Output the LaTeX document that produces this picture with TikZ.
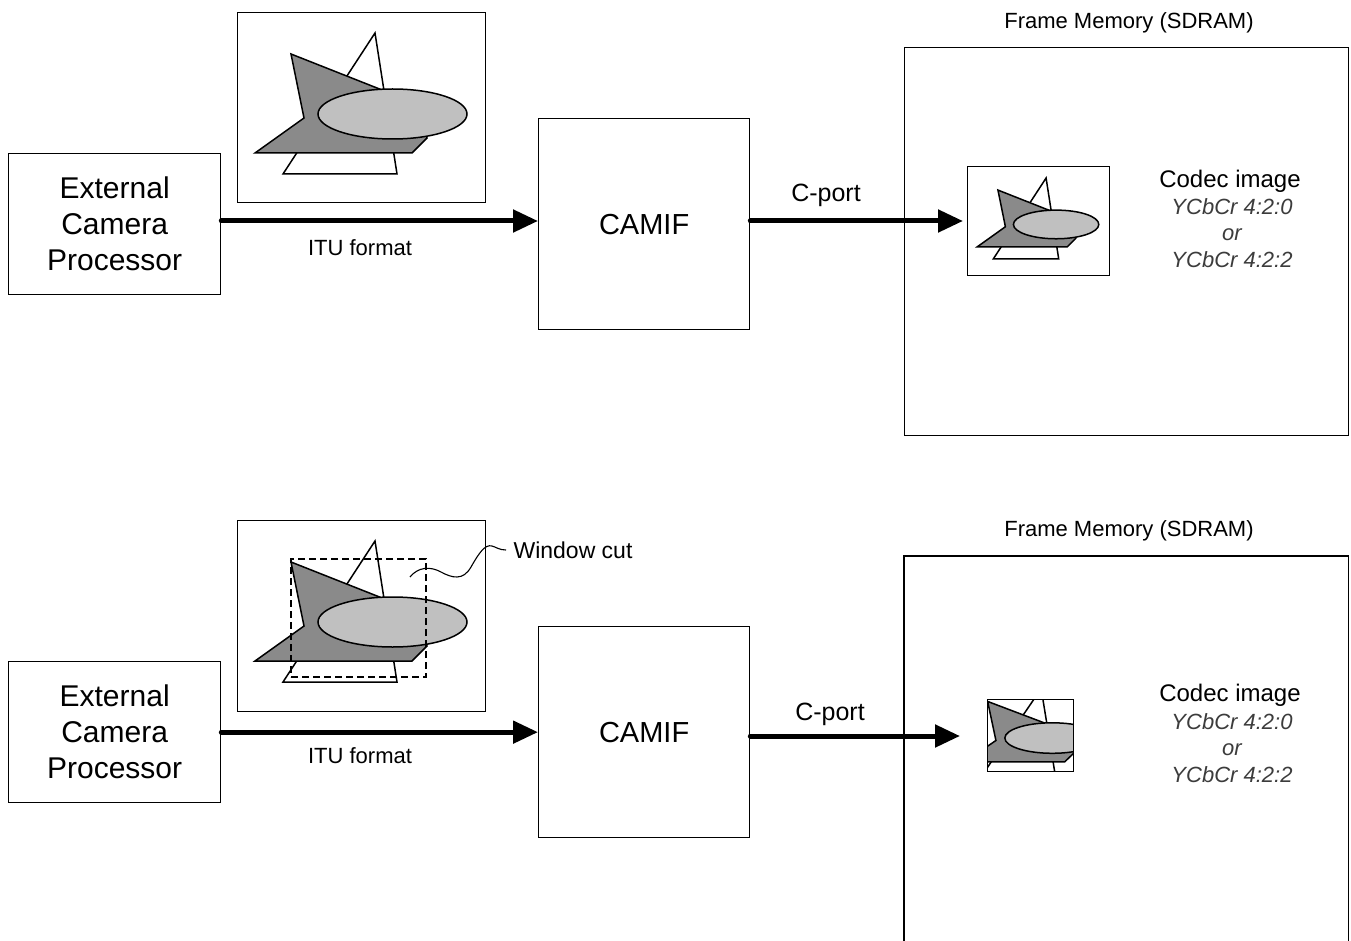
\documentclass[tikz,border=0pt]{standalone}
\usepackage{fontspec}
\setmainfont{Liberation Sans}
\usetikzlibrary{arrows.meta}

\definecolor{hatchgray}{RGB}{138,138,138}
\definecolor{ovalgray}{RGB}{192,192,192}
\definecolor{fmtgray}{RGB}{60,60,60}

\newcommand{\ecpfont}{\fontsize{30}{36}\selectfont}
\newcommand{\camiffont}{\fontsize{29}{34}\selectfont}
\newcommand{\labelfont}{\fontsize{22}{26}\selectfont}
\newcommand{\portfont}{\fontsize{25}{30}\selectfont}
\newcommand{\codecfont}{\fontsize{24}{28}\selectfont}
\newcommand{\fmtfont}{\fontsize{22}{26.5}\selectfont\itshape}

% Sample camera scene: triangle, star and oval, in a 248 x 190 frame
\newcommand{\camerascene}{%
  \draw[shapeline, fill=white] (138,21) -- (160,162) -- (46,162) -- cycle;
  \draw[shapeline, fill=hatchgray] (54,42) -- (183,93) -- (190,126) -- (175,141)
       -- (18,141) -- (67,106) -- cycle;
  \draw[shapeline, fill=ovalgray] (155.5,102) ellipse [x radius=74.5, y radius=25];
}

\begin{document}
\begin{tikzpicture}[x=1pt, y=-1pt,
  box/.style={draw, line width=1.3pt, inner sep=0pt, anchor=north west},
  shapeline/.style={line width=1.5pt, line join=miter},
  flow/.style={line width=5pt, line cap=round, -{Triangle[length=25pt, width=22pt]}},
  winbox/.style={draw, line width=2.2pt, dash pattern=on 7pt off 4pt, inner sep=0pt, anchor=north west}]

\path[use as bounding box, clip] (0,0) rectangle (1351,941);
\fill[white] (0,0) rectangle (1351,941);

% ---------------- upper path: full frame ----------------
\node[box, minimum width=212pt, minimum height=141pt, align=center, font=\ecpfont] (ecp) at (8,153)
  {External\\Camera\\Processor};
\node[box, minimum width=211pt, minimum height=211pt, font=\camiffont] (camif) at (538,118) {CAMIF};
\node[box, minimum width=248pt, minimum height=190pt] (srcA) at (237,12) {};
\begin{scope}[shift={(237,12)}]
  \camerascene
\end{scope}

\node[box, minimum width=444pt, minimum height=388pt] (fm) at (904,47) {};
\node[font=\labelfont] (fmlabel) at (1129,23) {Frame Memory (SDRAM)};

\node[box, line width=1.2pt, minimum width=142pt, minimum height=109pt] (imgA) at (967,166) {};
\begin{scope}[shift={(967,166)}, scale=0.573]
  \camerascene
\end{scope}

\node[font=\codecfont] (codecA) at (1230,181) {Codec image};
\node[font=\fmtfont, text=fmtgray, align=center] (fmtA) at (1232,233) {YCbCr 4:2:0\\or\\YCbCr 4:2:2};

\coordinate (ituLineA) at (400,221);
\draw[flow] (ecp.east |- ituLineA) -- (camif.west |- ituLineA);
\node[font=\labelfont] (ituA) at (360,248) {ITU format};
\draw[flow] (camif.east |- ituLineA) -- ([xshift=-4pt]imgA.west |- ituLineA);
\node[font=\portfont] (portA) at (826,195) {C-port};

% ---------------- lower path: window cut ----------------
\node[box, minimum width=212pt, minimum height=141pt, align=center, font=\ecpfont] (ecp2) at (8,661)
  {External\\Camera\\Processor};
\node[box, minimum width=211pt, minimum height=211pt, font=\camiffont] (camif2) at (538,626) {CAMIF};
\node[box, minimum width=248pt, minimum height=191pt] (srcB) at (237,520) {};
\begin{scope}[shift={(237,520)}]
  \camerascene
\end{scope}
\node[winbox, minimum width=135pt, minimum height=118pt] (win) at (290,558) {};
\coordinate (wstart) at (410,577);
\node[font=\fontsize{23}{27}\selectfont] (wc) at (573,550) {Window cut};
\draw[line width=1.1pt] (wstart) .. controls (418,567) and (430,566) .. (441,572)
  .. controls (452,578) and (463,581) .. (471,567)
  .. controls (479,553) and (485,544) .. (492,546)
  .. controls (496,547) and (499,550) .. ([xshift=-4pt]wc.west);

% memory box runs past the lower edge of the sheet
\node[inner sep=0pt, anchor=north west, minimum width=444pt, minimum height=420pt] (fm2) at (904,556) {};
\draw[line width=1.3pt] (fm2.south west) -- (fm2.north west) -- (fm2.north east) -- (fm2.south east);
\node[font=\labelfont] (fmlabel2) at (1129,531) {Frame Memory (SDRAM)};

\begin{scope}[shift={(987,699)}, xscale=0.637, yscale=0.61, shift={(-53,-38)}]
  \clip (53,38) rectangle (188,156);
  \camerascene
\end{scope}
\node[box, line width=1.2pt, minimum width=86pt, minimum height=72pt] (imgB) at (987,699) {};

\node[font=\codecfont] (codecB) at (1230,695) {Codec image};
\node[font=\fmtfont, text=fmtgray, align=center] (fmtB) at (1232,748) {YCbCr 4:2:0\\or\\YCbCr 4:2:2};

\draw[flow] (ecp2.east) -- (camif2.west);
\node[font=\labelfont] (ituB) at (360,756) {ITU format};
\coordinate (cpEnd) at (960,736);
\draw[flow] (camif2.east |- cpEnd) -- (cpEnd);
\node[font=\portfont] (portB) at (830,714) {C-port};

\end{tikzpicture}
\end{document}
